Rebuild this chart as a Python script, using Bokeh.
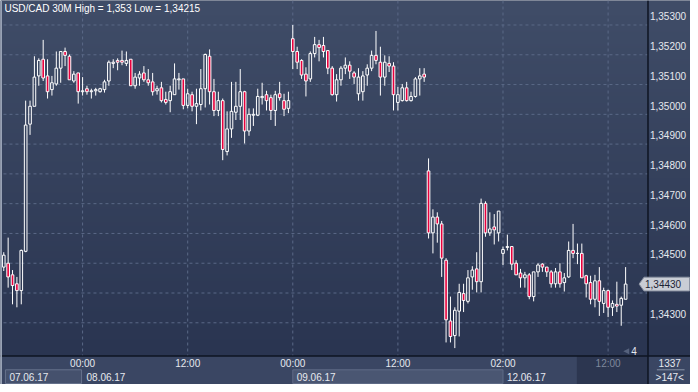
import numpy as np
from bokeh.plotting import figure
from bokeh.models import Range1d
from bokeh.embed import file_html
from bokeh.resources import INLINE
from bokeh.core.properties import value

# ---------------- data (USD/CAD, 30 minute candles) ----------------
open_ = [1.34487, 1.34500, 1.34461, 1.34431, 1.34408, 1.34540, 1.34967, 1.35027, 1.35129, 1.35185,
         1.35129, 1.35083, 1.35102, 1.35155, 1.35211, 1.35195, 1.35112, 1.35139, 1.35076, 1.35086,
         1.35076, 1.35079, 1.35076, 1.35083, 1.35112, 1.35171, 1.35181, 1.35181, 1.35171, 1.35185,
         1.35096, 1.35122, 1.35139, 1.35116, 1.35109, 1.35079, 1.35089, 1.35050, 1.35046, 1.35066,
         1.35116, 1.35119, 1.35030, 1.35066, 1.35027, 1.35033, 1.35086, 1.35195, 1.35076, 1.35013,
         1.35046, 1.34875, 1.34951, 1.35007, 1.35027, 1.35076, 1.34944, 1.34997, 1.34997, 1.35056,
         1.35066, 1.35056, 1.35013, 1.35069, 1.35046, 1.35020, 1.35254, 1.35211, 1.35181, 1.35135,
         1.35119, 1.35204, 1.35234, 1.35231, 1.35214, 1.35155, 1.35066, 1.35116, 1.35155, 1.35165,
         1.35139, 1.35069, 1.35076, 1.35132, 1.35155, 1.35198, 1.35175, 1.35125, 1.35171, 1.35162,
         1.35040, 1.35046, 1.35089, 1.35046, 1.35060, 1.35119, 1.35135,
         1.34810, 1.34602, 1.34655, 1.34632, 1.34510, 1.34306, 1.34257, 1.34339, 1.34398, 1.34372,
         1.34454, 1.34481, 1.34438, 1.34701, 1.34602, 1.34622, 1.34602, 1.34533, 1.34553, 1.34556,
         1.34500, 1.34467, 1.34451, 1.34461, 1.34388, 1.34471, 1.34497, 1.34487, 1.34471, 1.34431,
         1.34471, 1.34435, 1.34454, 1.34543, 1.34533, 1.34533, 1.34458, 1.34435, 1.34379, 1.34441,
         1.34365, 1.34408, 1.34352, 1.34362, 1.34359, 1.34379]
high = [1.34537, 1.34586, 1.34477, 1.34454, 1.34546, 1.35046, 1.35046, 1.35195, 1.35188, 1.35250,
        1.35185, 1.35129, 1.35211, 1.35211, 1.35224, 1.35201, 1.35145, 1.35139, 1.35125, 1.35096,
        1.35086, 1.35089, 1.35089, 1.35116, 1.35181, 1.35185, 1.35188, 1.35214, 1.35211, 1.35185,
        1.35139, 1.35145, 1.35162, 1.35152, 1.35139, 1.35096, 1.35109, 1.35076, 1.35096, 1.35171,
        1.35139, 1.35119, 1.35086, 1.35076, 1.35086, 1.35152, 1.35204, 1.35218, 1.35119, 1.35076,
        1.35053, 1.35010, 1.35109, 1.35109, 1.35152, 1.35079, 1.35020, 1.35020, 1.35086, 1.35106,
        1.35079, 1.35066, 1.35079, 1.35109, 1.35069, 1.35076, 1.35300, 1.35227, 1.35185, 1.35158,
        1.35211, 1.35260, 1.35250, 1.35260, 1.35214, 1.35162, 1.35135, 1.35162, 1.35191, 1.35178,
        1.35145, 1.35155, 1.35145, 1.35168, 1.35214, 1.35280, 1.35227, 1.35198, 1.35195, 1.35175,
        1.35092, 1.35102, 1.35109, 1.35076, 1.35125, 1.35155, 1.35155,
        1.34852, 1.34681, 1.34671, 1.34642, 1.34517, 1.34388, 1.34352, 1.34431, 1.34431, 1.34477,
        1.34490, 1.34537, 1.34717, 1.34708, 1.34671, 1.34665, 1.34675, 1.34556, 1.34596, 1.34556,
        1.34510, 1.34481, 1.34471, 1.34467, 1.34471, 1.34500, 1.34500, 1.34487, 1.34477, 1.34484,
        1.34500, 1.34467, 1.34573, 1.34632, 1.34566, 1.34566, 1.34461, 1.34458, 1.34461, 1.34487,
        1.34418, 1.34411, 1.34375, 1.34438, 1.34388, 1.34487]
low = [1.34474, 1.34418, 1.34362, 1.34352, 1.34362, 1.34537, 1.34931, 1.35027, 1.35096, 1.35112,
       1.35053, 1.35063, 1.35096, 1.35106, 1.35162, 1.35116, 1.35106, 1.35036, 1.35063, 1.35066,
       1.35053, 1.35063, 1.35073, 1.35073, 1.35096, 1.35155, 1.35148, 1.35165, 1.35162, 1.35096,
       1.35086, 1.35096, 1.35109, 1.35096, 1.35063, 1.35066, 1.35040, 1.35033, 1.35007, 1.35066,
       1.35083, 1.35017, 1.35020, 1.35010, 1.34967, 1.35013, 1.35023, 1.35033, 1.34994, 1.34994,
       1.34846, 1.34862, 1.34921, 1.34981, 1.34981, 1.34902, 1.34928, 1.34961, 1.34994, 1.35033,
       1.35013, 1.34981, 1.34961, 1.35046, 1.34994, 1.35004, 1.35152, 1.35152, 1.35119, 1.35060,
       1.35109, 1.35191, 1.35178, 1.35191, 1.35135, 1.35063, 1.35043, 1.35096, 1.35135, 1.35119,
       1.35102, 1.35046, 1.35046, 1.35096, 1.35145, 1.35168, 1.35063, 1.35096, 1.35142, 1.35013,
       1.35013, 1.35043, 1.35043, 1.35043, 1.35056, 1.35063, 1.35109,
       1.34583, 1.34533, 1.34569, 1.34454, 1.34234, 1.34234, 1.34215, 1.34254, 1.34336, 1.34365,
       1.34411, 1.34402, 1.34402, 1.34589, 1.34592, 1.34563, 1.34573, 1.34494, 1.34543, 1.34477,
       1.34461, 1.34418, 1.34418, 1.34379, 1.34372, 1.34454, 1.34471, 1.34454, 1.34418, 1.34418,
       1.34418, 1.34405, 1.34451, 1.34517, 1.34497, 1.34451, 1.34385, 1.34362, 1.34352, 1.34323,
       1.34333, 1.34319, 1.34323, 1.34336, 1.34290, 1.34379]
close = [1.34527, 1.34454, 1.34425, 1.34408, 1.34543, 1.34964, 1.35027, 1.35125, 1.35181, 1.35122,
         1.35076, 1.35106, 1.35155, 1.35211, 1.35198, 1.35116, 1.35135, 1.35076, 1.35079, 1.35076,
         1.35079, 1.35083, 1.35086, 1.35109, 1.35175, 1.35175, 1.35175, 1.35175, 1.35181, 1.35096,
         1.35125, 1.35135, 1.35116, 1.35106, 1.35076, 1.35086, 1.35046, 1.35040, 1.35076, 1.35119,
         1.35119, 1.35030, 1.35069, 1.35027, 1.35036, 1.35086, 1.35201, 1.35076, 1.35013, 1.35046,
         1.34882, 1.34951, 1.35010, 1.35027, 1.35076, 1.34944, 1.35000, 1.35000, 1.35060, 1.35060,
         1.35046, 1.35013, 1.35066, 1.35056, 1.35017, 1.35046, 1.35211, 1.35175, 1.35132, 1.35112,
         1.35204, 1.35234, 1.35224, 1.35211, 1.35155, 1.35066, 1.35116, 1.35155, 1.35165, 1.35145,
         1.35125, 1.35125, 1.35129, 1.35155, 1.35198, 1.35181, 1.35125, 1.35175, 1.35162, 1.35066,
         1.35066, 1.35089, 1.35046, 1.35060, 1.35119, 1.35129, 1.35125,
         1.34602, 1.34655, 1.34632, 1.34517, 1.34310, 1.34254, 1.34342, 1.34402, 1.34375, 1.34451,
         1.34477, 1.34438, 1.34701, 1.34602, 1.34615, 1.34612, 1.34675, 1.34546, 1.34556, 1.34497,
         1.34461, 1.34451, 1.34461, 1.34388, 1.34471, 1.34494, 1.34487, 1.34471, 1.34431, 1.34471,
         1.34431, 1.34451, 1.34543, 1.34533, 1.34533, 1.34451, 1.34431, 1.34379, 1.34441, 1.34372,
         1.34408, 1.34352, 1.34365, 1.34356, 1.34382, 1.34430]

price_ticks = [1.343, 1.344, 1.345, 1.346, 1.347, 1.348, 1.349, 1.350, 1.351, 1.352, 1.353]
price_tick_labels = ["1,34300", "1,34400", "1,34500", "1,34600", "1,34700", "1,34800",
                     "1,34900", "1,35000", "1,35100", "1,35200", "1,35300"]
time_tick_idx = [18, 42, 66, 90, 114, 138]
time_tick_labels = ["00:00", "12:00", "00:00", "12:00", "02:00", "12:00"]
date_tick_idx = [18, 66, 114]
date_labels = ["08.06.17", "09.06.17", "12.06.17"]
first_date_label = "07.06.17"
title = "USD/CAD 30M High = 1,353 Low = 1,34215"
bar_count_label = "1337"
range_label = ">147<"
marker_count_label = "4"

# ---------------- layout helpers (reference pixel -> data) ----------------
X0, DX = 3.3, 4.43          # pixel of candle 0, pixels per candle
Y0, DY = 25.0, 30400.0      # pixel of top price tick, pixels per price unit
PTOP = price_ticks[-1]


def xd(px):
    return (px - X0) / DX


def yd(py):
    return PTOP - (py - Y0) / DY


FONT = value("Liberation Sans")

p = figure(width=690, height=384,
           x_range=Range1d(xd(0), xd(698)), y_range=Range1d(yd(392), yd(0)),
           x_axis_type=None, y_axis_type=None,
           toolbar_location=None, output_backend="svg", min_border=0,
           outline_line_color=None)
p.background_fill_color = "#2f3a56"
p.border_fill_color = "#2f3a56"

# background gradient of the chart area
n = 363
img = np.empty((n, 1), dtype=np.uint32)
view = img.view(dtype=np.uint8).reshape((n, 1, 4))
t = np.linspace(0.0, 1.0, n)[:, None]          # 0 = bottom, 1 = top
c_bot = np.array([42, 53, 81])
c_top = np.array([64, 77, 104])
rgb = c_bot + (c_top - c_bot) * t
view[:, 0, 0] = rgb[:, 0]
view[:, 0, 1] = rgb[:, 1]
view[:, 0, 2] = rgb[:, 2]
view[:, 0, 3] = 255
p.image_rgba(image=[img], x=xd(0), y=yd(363), dw=xd(698) - xd(0), dh=yd(0) - yd(363), level="image")

# grid
GRID = "#5b6987"
p.segment(x0=[xd(3)] * len(price_ticks), y0=price_ticks, x1=[xd(655)] * len(price_ticks), y1=price_ticks,
          line_color=GRID, line_width=1, line_dash="3 3")
p.segment(x0=time_tick_idx, y0=[yd(0)] * len(time_tick_idx), x1=time_tick_idx, y1=[yd(363)] * len(time_tick_idx),
          line_color=GRID, line_width=1, line_dash="3 3")

# candles
o = np.array(open_)
h = np.array(high)
lo = np.array(low)
c = np.array(close)
idx = np.arange(len(o))
top = np.maximum(o, c)
bot = np.minimum(o, c)
bull = c >= o
p.segment(x0=idx, y0=top, x1=idx, y1=h, line_color="white", line_width=1)
p.segment(x0=idx, y0=lo, x1=idx, y1=bot, line_color="white", line_width=1)
p.vbar(x=idx[bull], top=top[bull], bottom=bot[bull], width=0.6,
       fill_color=None, line_color="white", line_width=1)
p.vbar(x=idx[~bull], top=top[~bull], bottom=bot[~bull], width=0.6,
       fill_color="#e8003d", line_color="white", line_width=1)

# title
p.text(x=[xd(4)], y=[yd(8)], text=[title], text_font=FONT, text_font_size="10px",
       text_color="#ffffff", text_baseline="middle", text_align="left")

# bottom time panel
p.quad(left=[xd(0)], right=[xd(698)], bottom=[yd(392)], top=[yd(363)],
       fill_color="#3a4663", line_color=None)
p.quad(left=[xd(5)], right=[xd(82)], bottom=[yd(391)], top=[yd(377)],
       fill_color="#45516d", line_color="#66728c", line_width=1)
p.quad(left=[time_tick_idx[2]], right=[time_tick_idx[4]], bottom=[yd(391)], top=[yd(377)],
       fill_color="#4a5672", line_color="#5f6b86", line_width=1)
p.quad(left=[xd(583)], right=[xd(655)], bottom=[yd(392)], top=[yd(363)],
       fill_color="#2c3650", line_color=None)

tcol = ["#e6e9ef"] * (len(time_tick_idx) - 1) + ["#7f889c"]
p.text(x=time_tick_idx, y=[yd(371)] * len(time_tick_idx), text=time_tick_labels,
       text_font=FONT, text_font_size="10px", text_color=tcol,
       text_baseline="middle", text_align="center")
p.text(x=[xd(9)], y=[yd(384.5)], text=[first_date_label], text_font=FONT, text_font_size="10px",
       text_color="#e6e9ef", text_baseline="middle", text_align="left")
p.text(x=[i + xd(87) - time_tick_idx[0] for i in date_tick_idx], y=[yd(384.5)] * len(date_tick_idx),
       text=date_labels, text_font=FONT, text_font_size="10px", text_color="#e6e9ef",
       text_baseline="middle", text_align="left")

# separators
p.segment(x0=[xd(0)], y0=[yd(363)], x1=[xd(698)], y1=[yd(363)], line_color="#0e1422", line_width=1.5)
p.segment(x0=[xd(655)], y0=[yd(0)], x1=[xd(655)], y1=[yd(392)], line_color="#0e1422", line_width=1.5)
p.segment(x0=[xd(0.5)], y0=[yd(0)], x1=[xd(0.5)], y1=[yd(392)], line_color="#9aa4b6", line_width=2)

# right price axis labels (drawn slightly above their grid line)
p.text(x=[xd(657)] * len(price_ticks), y=[v + 9 / DY for v in price_ticks], text=price_tick_labels,
       text_font=FONT, text_font_size="10px", text_color="#e6e9ef",
       text_baseline="middle", text_align="left")

# last price marker
lp = close[-1]
hh = 7 / DY
p.patch(x=[xd(646), xd(651), xd(697), xd(697), xd(651)],
        y=[lp, lp + hh, lp + hh, lp - hh, lp - hh],
        fill_color="#c9cdd5", line_color="#8d94a3", line_width=1)
p.text(x=[xd(652)], y=[lp], text=["{:.5f}".format(lp).replace(".", ",")], text_font=FONT,
       text_font_size="10px", text_color="#1c2233", text_baseline="middle", text_align="left")

# marker count
p.patch(x=[xd(630), xd(636), xd(636)], y=[yd(358), yd(355), yd(361)],
        fill_color="#56627d", line_color=None)
p.text(x=[xd(638)], y=[yd(358)], text=[marker_count_label], text_font=FONT, text_font_size="10px",
       text_color="#e6e9ef", text_baseline="middle", text_align="left")

# corner cell
p.text(x=[xd(677)], y=[yd(370)], text=[bar_count_label], text_font=FONT, text_font_size="10px",
       text_color="#e6e9ef", text_baseline="middle", text_align="center")
p.segment(x0=[xd(664)], y0=[yd(377)], x1=[xd(692)], y1=[yd(377)], line_color="#8a94a8", line_width=1)
p.text(x=[xd(677)], y=[yd(384.5)], text=[range_label], text_font=FONT, text_font_size="10px",
       text_color="#e6e9ef", text_baseline="middle", text_align="center")

open("out.html", "w").write(file_html(p, INLINE))
